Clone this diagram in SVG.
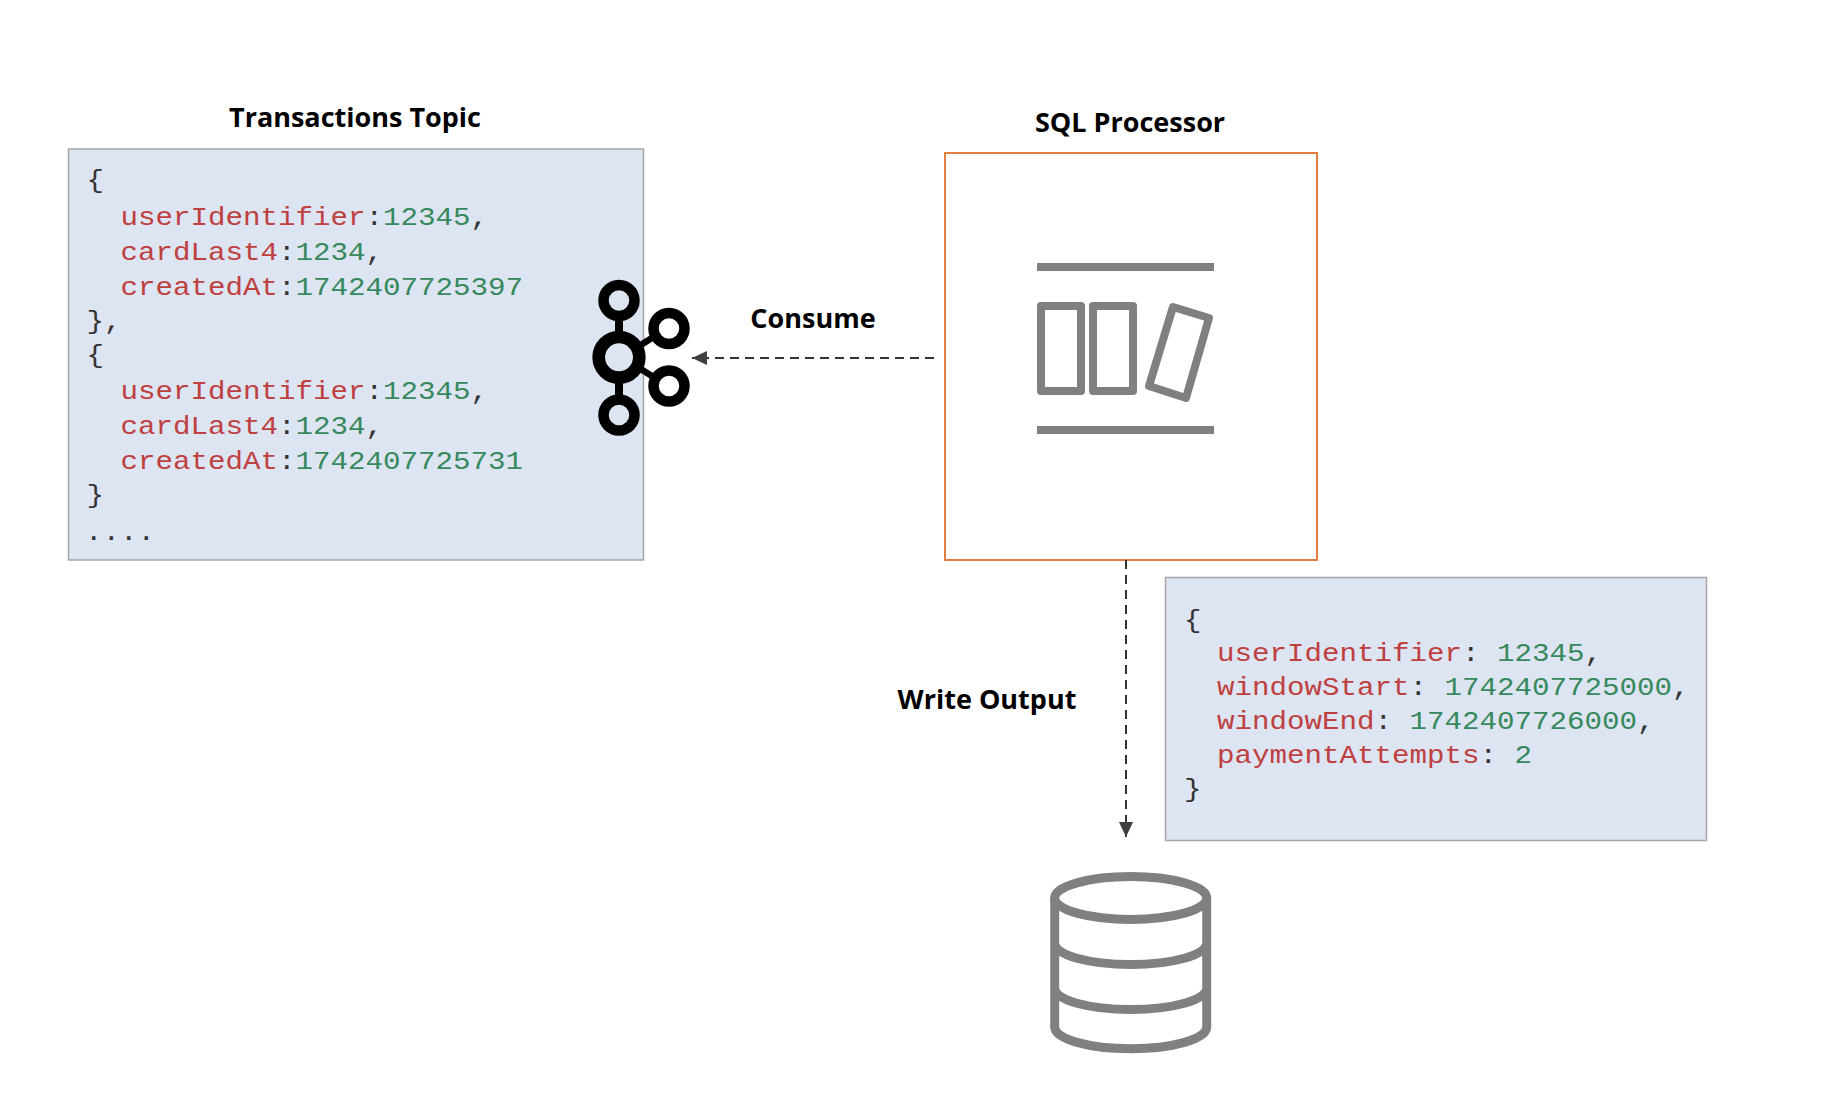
<svg xmlns="http://www.w3.org/2000/svg" width="1838" height="1098" viewBox="0 0 1838 1098">
<defs>
<marker id="ah" markerUnits="userSpaceOnUse" markerWidth="15" markerHeight="14" refX="15" refY="7" orient="auto"><path d="M0 0L15 7L0 14Z" fill="#404040"/></marker>
</defs>
<style>
.title{font-family:"Open Sans","Noto Sans",sans-serif;font-weight:700;font-size:27px;fill:#000;text-anchor:middle}
.box{fill:#dde4f2;stroke:#a6a6a6;stroke-width:1.5}
.code{font-family:"Liberation Mono",monospace;font-size:26.5px;fill:#333;white-space:pre}
.k{fill:#bf4040}.v{fill:#36895c}
.icon{fill:none;stroke:#808080;stroke-width:8;stroke-linejoin:round}
.kafka{fill:none;stroke:#000}
.conn{fill:none;stroke:#333;stroke-width:2;stroke-dasharray:9 6;marker-end:url(#ah)}
</style>
<rect width="1838" height="1098" fill="#fff"/>
<g id="transactions-topic">
<text class="title" x="355" y="127">Transactions Topic</text>
<rect class="box" x="68.5" y="149" width="575" height="411"/>
<text class="code" transform="matrix(1.101 0 0 1 86.5 188)">{</text>
<text class="code" transform="matrix(1.101 0 0 1 120.5 224.5)"><tspan class="k">userIdentifier</tspan>:<tspan class="v">12345</tspan>,</text>
<text class="code" transform="matrix(1.101 0 0 1 120.5 259.5)"><tspan class="k">cardLast4</tspan>:<tspan class="v">1234</tspan>,</text>
<text class="code" transform="matrix(1.101 0 0 1 120.5 294.5)"><tspan class="k">createdAt</tspan>:<tspan class="v">1742407725397</tspan></text>
<text class="code" transform="matrix(1.101 0 0 1 86.5 329)">},</text>
<text class="code" transform="matrix(1.101 0 0 1 86.5 363)">{</text>
<text class="code" transform="matrix(1.101 0 0 1 120.5 398.5)"><tspan class="k">userIdentifier</tspan>:<tspan class="v">12345</tspan>,</text>
<text class="code" transform="matrix(1.101 0 0 1 120.5 433.5)"><tspan class="k">cardLast4</tspan>:<tspan class="v">1234</tspan>,</text>
<text class="code" transform="matrix(1.101 0 0 1 120.5 468.5)"><tspan class="k">createdAt</tspan>:<tspan class="v">1742407725731</tspan></text>
<text class="code" transform="matrix(1.101 0 0 1 86.5 503)">}</text>
<text class="code" transform="matrix(1.101 0 0 1 85 540)">....</text>
</g>
<g id="kafka-icon">
<path class="kafka" stroke-width="8" d="M619 316V342M619 372V400"/>
<path class="kafka" stroke-width="6.5" d="M636 348L655 336M636 366L655 378"/>
<circle class="kafka" stroke-width="12.7" cx="619" cy="357.3" r="20.3"/>
<circle class="kafka" stroke-width="10.5" cx="619" cy="300.5" r="15.5"/>
<circle class="kafka" stroke-width="10.5" cx="619" cy="415" r="15.5"/>
<circle class="kafka" stroke-width="10.5" cx="669" cy="328.5" r="15.5"/>
<circle class="kafka" stroke-width="10.5" cx="669" cy="386" r="15.5"/>
</g>
<g id="sql-processor">
<text class="title" x="1130" y="132">SQL Processor</text>
<rect x="945" y="153" width="372" height="407" fill="#fff" stroke="#e07f3f" stroke-width="2"/>
<path class="icon" d="M1037 267H1214M1037 430H1214"/>
<rect class="icon" x="1041" y="306" width="40" height="85"/>
<rect class="icon" x="1093" y="306" width="40" height="85"/>
<path class="icon" d="M1173 307L1209 318L1186 398L1149 386Z"/>
</g>
<g id="connectors">
<path class="conn" d="M934 358H692"/>
<path class="conn" d="M1126 560V837"/>
</g>
<text class="title" x="813" y="328">Consume</text>
<text class="title" x="987" y="709">Write Output</text>
<g id="output-record">
<rect class="box" x="1165.5" y="577.5" width="541" height="263"/>
<text class="code" transform="matrix(1.101 0 0 1 1184 628)">{</text>
<text class="code" transform="matrix(1.101 0 0 1 1217 661)"><tspan class="k">userIdentifier</tspan>: <tspan class="v">12345</tspan>,</text>
<text class="code" transform="matrix(1.101 0 0 1 1217 695)"><tspan class="k">windowStart</tspan>: <tspan class="v">1742407725000</tspan>,</text>
<text class="code" transform="matrix(1.101 0 0 1 1217 729)"><tspan class="k">windowEnd</tspan>: <tspan class="v">1742407726000</tspan>,</text>
<text class="code" transform="matrix(1.101 0 0 1 1217 763)"><tspan class="k">paymentAttempts</tspan>: <tspan class="v">2</tspan></text>
<text class="code" transform="matrix(1.101 0 0 1 1184 797)">}</text>
</g>
<g id="database">
<ellipse class="icon" style="stroke-width:9" cx="1130.7" cy="898" rx="76" ry="21.5"/>
<path class="icon" style="stroke-width:9" d="M1054.7 898V1027C1054.7 1039 1088.7 1048.7 1130.7 1048.7S1206.7 1039 1206.7 1027V898M1054.7 943C1054.7 955 1088.7 964.5 1130.7 964.5S1206.7 955 1206.7 943M1054.7 988C1054.7 1000 1088.7 1009.5 1130.7 1009.5S1206.7 1000 1206.7 988"/>
</g>
</svg>
